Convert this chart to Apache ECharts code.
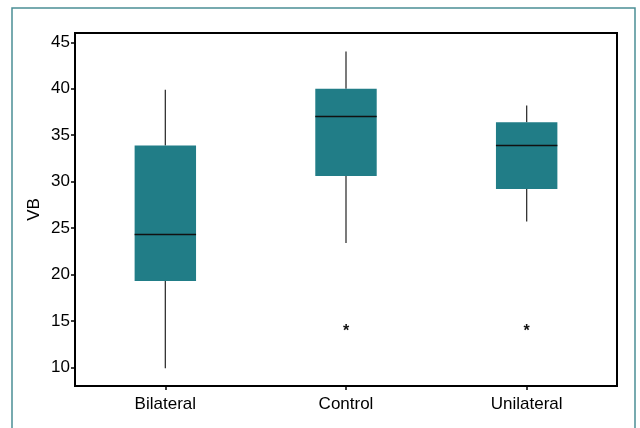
<!DOCTYPE html>
<html>
<head>
<meta charset="utf-8">
<script src="https://cdn.jsdelivr.net/npm/echarts@6/dist/echarts.min.js"></script>
<style>
html,body{margin:0;padding:0;background:#fff;}
#chart{width:640px;height:428px;}
</style>
</head>
<body>
<div id="chart"></div>
<script>
const categories = ['Bilateral', 'Control', 'Unilateral'];
// [lowWhisker, Q1, median, Q3, highWhisker]
const boxStats = [
  [9.9, 19.3, 24.3, 33.9, 39.9],
  [23.4, 30.6, 37.0, 40.0, 44.0],
  [25.7, 29.2, 33.9, 36.4, 38.2]
];
// [categoryIndex, value]
const outliers = [
  [1, 14.3],
  [2, 14.3]
];
const yTicks = [10, 15, 20, 25, 30, 35, 40, 45];

const BOX_COLOR = '#217d87';
const FONT = 'Liberation Sans, Arial, sans-serif';

const chart = echarts.init(document.getElementById('chart'), null, {renderer: 'canvas'});

const boxData = boxStats.map((s, i) => [i].concat(s));

chart.setOption({
  animation: false,
  backgroundColor: '#fff',
  graphic: [{
    type: 'rect',
    shape: {x: 12, y: 8, width: 623, height: 440},
    style: {fill: 'none', stroke: '#4b8e95', lineWidth: 1.5},
    z: 0
  }],
  grid: {
    left: 75, right: 23, top: 33, bottom: 42,
    show: true, borderColor: '#000', borderWidth: 2, backgroundColor: 'transparent'
  },
  xAxis: {
    type: 'category',
    data: categories,
    boundaryGap: true,
    axisLine: {show: true, lineStyle: {color: '#000', width: 2}},
    axisTick: {show: true, alignWithLabel: true, length: 4, lineStyle: {color: '#000', width: 1.5}},
    axisLabel: {color: '#000', fontFamily: FONT, fontSize: 17, margin: 10},
    splitLine: {show: false}
  },
  yAxis: {
    type: 'value',
    min: 8,
    max: 46,
    name: 'VB',
    nameLocation: 'middle',
    nameGap: 32,
    nameMoveOverlap: false,
    nameTextStyle: {color: '#000', fontFamily: FONT, fontSize: 17},
    axisLine: {show: true, lineStyle: {color: '#000', width: 2}},
    axisTick: {show: true, length: 4, lineStyle: {color: '#000', width: 1.5}, customValues: yTicks},
    axisLabel: {color: '#000', fontFamily: FONT, fontSize: 17, margin: 5, customValues: yTicks},
    splitLine: {show: false}
  },
  series: [{
    type: 'custom',
    data: boxData,
    encode: {x: 0, y: [1, 2, 3, 4, 5]},
    renderItem: function (params, api) {
      const idx = api.value(0);
      const lo = api.coord([idx, api.value(1)]);
      const q1 = api.coord([idx, api.value(2)]);
      const med = api.coord([idx, api.value(3)]);
      const q3 = api.coord([idx, api.value(4)]);
      const hi = api.coord([idx, api.value(5)]);
      const band = api.size([1, 0])[0];
      const w = band * 0.34;
      const cx = lo[0];
      return {
        type: 'group',
        children: [
          {type: 'line', shape: {x1: cx, y1: hi[1], x2: cx, y2: q3[1]}, style: {stroke: '#333', lineWidth: 1.3}},
          {type: 'line', shape: {x1: cx, y1: q1[1], x2: cx, y2: lo[1]}, style: {stroke: '#333', lineWidth: 1.3}},
          {type: 'rect', shape: {x: cx - w / 2, y: q3[1], width: w, height: q1[1] - q3[1]}, style: {fill: BOX_COLOR}},
          {type: 'line', shape: {x1: cx - w / 2, y1: med[1], x2: cx + w / 2, y2: med[1]}, style: {stroke: '#111', lineWidth: 1.5}}
        ]
      };
    }
  }, {
    type: 'custom',
    data: outliers,
    encode: {x: 0, y: 1},
    renderItem: function (params, api) {
      const p = api.coord([api.value(0), api.value(1)]);
      return {
        type: 'text',
        x: p[0], y: p[1] + 4,
        style: {text: '*', fill: '#111', font: 'bold 16px ' + FONT, align: 'center', verticalAlign: 'middle'}
      };
    }
  }]
});
</script>
</body>
</html>
